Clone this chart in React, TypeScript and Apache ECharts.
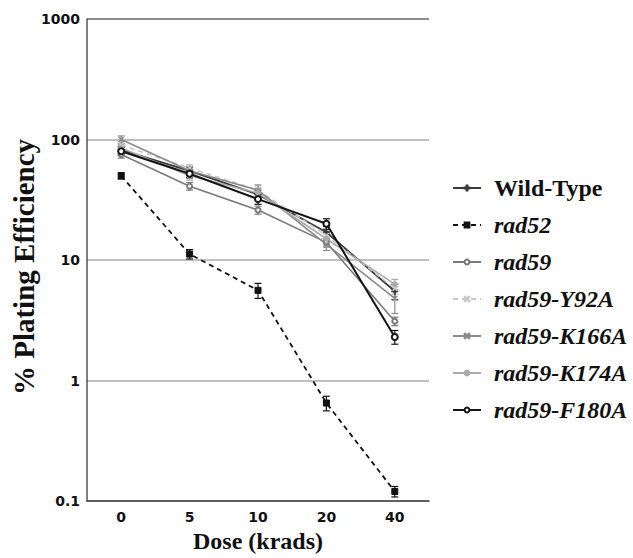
import React, { useEffect, useRef } from "react";
import * as echarts from "echarts";

const categories = ["0", "5", "10", "20", "40"];
const yTicks = [0.1, 1, 10, 100, 1000];

const wildType = [82, 55, 35, 17, 5.5];
const rad52 = [50, 11.2, 5.6, 0.65, 0.12];
const rad59 = [75, 41, 26, 14, 3.1];
const rad59Y92A = [90, 58, 38, 16, 5.8];
const rad59K166A = [100, 55, 38, 13.5, 4.8];
const rad59K174A = [85, 50, 36, 15, 6.3];
const rad59F180A = [80, 52, 32, 20, 2.3];

const errWildType = [6, 4, 3, 2, 0.8];
const errRad52 = [3, 1, 0.8, 0.09, 0.012];
const errRad59 = [5, 3, 2, 1.2, 0.25];
const errY92A = [6, 4, 3, 1.5, 0.6];
const errK166A = [7, 5, 4, 1.5, 1.2];
const errK174A = [6, 4, 3, 1.5, 0.6];
const errF180A = [6, 4, 3, 2, 0.3];

const names = ["Wild-Type", "rad52", "rad59", "rad59-Y92A", "rad59-K166A", "rad59-K174A", "rad59-F180A"];
const values = [wildType, rad52, rad59, rad59Y92A, rad59K166A, rad59K174A, rad59F180A];
const errors = [errWildType, errRad52, errRad59, errY92A, errK166A, errK174A, errF180A];

const colors = ["#3a3a3a", "#111111", "#7a7a7a", "#c8c8c8", "#8a8a8a", "#ababab", "#151515"];
const dashed = [false, true, false, true, false, false, false];
const PLUS = "path://M0,4h10v2H0zM4,0h2v10H4z";
const CROSS = "path://M0,1L1,0L5,4L9,0L10,1L6,5L10,9L9,10L5,6L1,10L0,9L4,5z";
const symbols = [PLUS, "rect", "emptyCircle", CROSS, CROSS, "circle", "emptyCircle"];
const symbolSizes = [6, 6, 5, 5, 5, 5, 6];
const widths = [1.8, 1.8, 1.6, 1.6, 1.6, 1.6, 2];

export default function App() {
  const ref = useRef<HTMLDivElement>(null);
  useEffect(() => {
    if (!ref.current) return;
    const chart = echarts.init(ref.current, undefined, { renderer: "svg" });

    const errData: number[][] = [];
    values.forEach((vals, s) => {
      vals.forEach((v, i) => {
        const e = errors[s][i];
        errData.push([i, Math.max(v - e, 0.0001), v + e, s]);
      });
    });

    const lineSeries = names.map((name, s) => ({
      name,
      type: "line",
      data: values[s],
      symbol: symbols[s],
      symbolSize: symbolSizes[s],
      lineStyle: { color: colors[s], width: widths[s], type: dashed[s] ? [5, 4] : "solid" },
      itemStyle: { color: colors[s], borderColor: colors[s], borderWidth: 1 },
      z: s === 1 ? 3 : 2,
    }));

    const rich = {
      n: { fontFamily: "Liberation Serif", fontWeight: "bold", fontSize: 24, color: "#111", lineHeight: 24 },
      i: { fontFamily: "Liberation Serif", fontWeight: "bold", fontStyle: "italic", fontSize: 24, color: "#111", lineHeight: 24 },
    };

    chart.setOption({
      animation: false,
      backgroundColor: "#ffffff",
      grid: { left: 87, right: 204, top: 19, bottom: 50, containLabel: false },
      legend: {
        data: names,
        orient: "vertical",
        left: 447,
        top: 171,
        itemWidth: 28,
        itemHeight: 6,
        itemGap: 13,
        selectedMode: false,
        formatter: (n: string) => (n === "Wild-Type" ? `{n|${n}}` : `{i|${n}}`),
        textStyle: { padding: [0, 0, 0, 8], rich },
      },
      xAxis: {
        type: "category",
        data: categories,
        boundaryGap: true,
        axisLine: { lineStyle: { color: "#444", width: 1.5 } },
        axisTick: { show: false },
        axisLabel: { margin: 9, fontFamily: "DejaVu Sans", fontWeight: "bold", fontSize: 14, color: "#111" },
        name: "Dose (krads)",
        nameLocation: "middle",
        nameGap: 28,
        nameTextStyle: { fontFamily: "Liberation Serif", fontWeight: "bold", fontSize: 24, color: "#111" },
      },
      yAxis: {
        type: "log",
        logBase: 10,
        min: yTicks[0],
        max: yTicks[yTicks.length - 1],
        axisLine: { show: true, lineStyle: { color: "#555", width: 1.5 } },
        axisTick: { show: false },
        axisLabel: {
          margin: 7,
          fontFamily: "DejaVu Sans",
          fontWeight: "bold",
          fontSize: 14,
          color: "#111",
          formatter: (v: number) => String(yTicks.find((t) => Math.abs(t - v) / t < 1e-6) ?? v),
        },
        splitLine: { show: true, lineStyle: { color: ["#999", "#aaaaaa", "#aaaaaa", "#aaaaaa", "#666"], width: 1.5 } },
      },
      graphic: [
        {
          type: "text",
          x: 24,
          y: 267,
          rotation: Math.PI / 2,
          style: {
            text: "% Plating Efficiency",
            fontFamily: "Liberation Serif",
            fontWeight: "bold",
            fontSize: 29,
            fill: "#111",
            align: "center",
            verticalAlign: "middle",
          },
        },
      ],
      series: [
        {
          name: "errors",
          type: "custom",
          data: errData,
          encode: { x: 0, y: [1, 2] },
          z: 1,
          silent: true,
          renderItem: (params: any, api: any) => {
            const xi = api.value(0);
            const hi = api.coord([xi, api.value(2)]);
            const lo = api.coord([xi, api.value(1)]);
            const c = colors[api.value(3)];
            const w = 3.5;
            const st = { stroke: c, lineWidth: 1.2 };
            return {
              type: "group",
              children: [
                { type: "line", shape: { x1: hi[0], y1: hi[1], x2: lo[0], y2: lo[1] }, style: st },
                { type: "line", shape: { x1: hi[0] - w, y1: hi[1], x2: hi[0] + w, y2: hi[1] }, style: st },
                { type: "line", shape: { x1: lo[0] - w, y1: lo[1], x2: lo[0] + w, y2: lo[1] }, style: st },
              ],
            };
          },
        },
        ...lineSeries,
      ],
    });
    return () => chart.dispose();
  }, []);
  return <div ref={ref} style={{ width: 633, height: 558, position: "absolute", left: 0, top: 0 }} />;
}
